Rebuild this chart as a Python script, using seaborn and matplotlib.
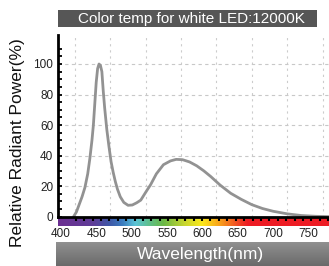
import numpy as np
import seaborn as sns
import matplotlib.pyplot as plt
from matplotlib.patches import Rectangle
from matplotlib.colors import LinearSegmentedColormap

# spectrum
wavelength = [418, 422, 426, 430, 434, 438, 441, 444, 446, 448, 450, 452, 454, 456, 458,
              460, 462, 465, 468, 471, 474, 477, 480, 484, 489, 495, 501, 507, 513, 520,
              527, 535, 545, 555, 563, 572, 582, 592, 602, 612, 625, 640, 655, 670, 685,
              700, 720, 740, 760, 779]
power = [0, 3, 8, 13, 19, 28, 38, 50, 60, 74, 88, 97, 100, 99, 95,
         82, 71, 57, 46, 36, 29, 23, 18, 13, 9.3, 7.4, 7.6, 9, 10.8, 16,
         21, 28, 34, 36.5, 37.5, 37.3, 35.8, 33.3, 30, 26.2, 20.7, 15.3, 11.3, 7.8, 5.3,
         3.5, 1.8, 0.7, 0.2, 0]

x_labels = [400, 450, 500, 550, 600, 650, 700, 750]
grid_x = [420, 470, 520, 570, 620, 670, 720, 770]
y_ticks = [0, 20, 40, 60, 80, 100]

spec_wl = [396, 445, 468, 487, 505, 525, 545, 575, 600, 625, 650, 665, 779]
spec_col = ['#6b2f91', '#5f3d98', '#3f57a6', '#3b7dc0', '#5bc4d6', '#5ebf8a', '#6ab845',
            '#c8d62e', '#fce81a', '#f8a01c', '#f04a23', '#ed1c24', '#ed1c24']

title = 'Color temp for white LED:12000K'
xlabel = 'Wavelength(nm)'
ylabel = 'Relative Radiant Power(%)'

sns.set_style('white')
plt.rcParams['font.family'] = ['Liberation Sans', 'DejaVu Sans']

W, H = 329, 266
XMIN, XMAX = 396, 779


def box(x0, y0, x1, y1):
    return [x0 / W, 1 - y1 / H, (x1 - x0) / W, (y1 - y0) / H]


fig = plt.figure(figsize=(W / 100, H / 100), dpi=100)

# main plot
ax = fig.add_axes(box(58, 35, 329, 216.6))
ax.set_zorder(2)
for g in grid_x:
    ax.axvline(g, color='#cccccc', lw=0.8, ls=(0, (2, 3.5)), zorder=0)
for g in y_ticks[1:]:
    ax.axhline(g, color='#c8c8c8', lw=0.8, ls=(0, (3, 3)), zorder=0)
sns.lineplot(x=wavelength, y=power, ax=ax, color='#929292', linewidth=2)
ax.set_xlim(XMIN, XMAX)
ax.set_ylim(0, 119)
ax.set_xlabel('')
ax.set_ylabel('')
sns.despine(ax=ax)
for s in ['left', 'bottom']:
    ax.spines[s].set_linewidth(2)
    ax.spines[s].set_color('black')

ax.set_yticks(y_ticks)
ax.set_yticks(np.arange(0, 111, 5), minor=True)
ax.tick_params(axis='y', which='both', direction='in', length=3, width=1.3,
               color='black', labelsize=8.5, labelcolor='#222222', pad=3.5, left=True)
ax.set_xticks([])
ax.set_xticks(np.arange(421, XMAX, 11.9), minor=True)
ax.tick_params(axis='x', which='minor', direction='out', length=3, width=1.5,
               color='black', bottom=True)

# colour bar under the axis
sp = fig.add_axes(box(58, 217.3, 329, 225.7))
sp.set_zorder(1)
stops = [(w - XMIN) / (XMAX - XMIN) for w in spec_wl]
cmap = LinearSegmentedColormap.from_list('spec', list(zip(stops, spec_col)))
sp.imshow(np.linspace(XMIN, XMAX, 600)[None, :], aspect='auto', cmap=cmap,
          extent=(XMIN, XMAX, 0, 1))
sp.set_xlim(XMIN, XMAX)
sp.set_yticks([])
sp.set_xticks(x_labels)
sp.tick_params(axis='x', length=0, pad=2, labelsize=8.5, labelcolor='#222222')
for s in sp.spines.values():
    s.set_visible(False)

# title banner
fig.add_artist(Rectangle((58 / W, 1 - 27.3 / H), (317 - 58) / W, 17.3 / H,
                         transform=fig.transFigure, color='#565656', lw=0))
fig.text(191 / W, 1 - 18.8 / H, title, color='white', fontsize=11,
         ha='center', va='center')

# x label banner
bx = fig.add_axes(box(55.7, 241.7, 329, 266))
bx.imshow(np.linspace(0, 1, 50)[:, None], aspect='auto',
          cmap=LinearSegmentedColormap.from_list('g', ['#929292', '#6a6a6a']),
          extent=(0, 1, 0, 1))
bx.axis('off')
fig.text(200 / W, 1 - 254 / H, xlabel, color='white', fontsize=12.5,
         ha='center', va='center')

fig.text(18 / W, 1 - 143 / H, ylabel, rotation=90, fontsize=12.5,
         ha='center', va='center', color='#111111')

fig.savefig('out.png', dpi=100)
